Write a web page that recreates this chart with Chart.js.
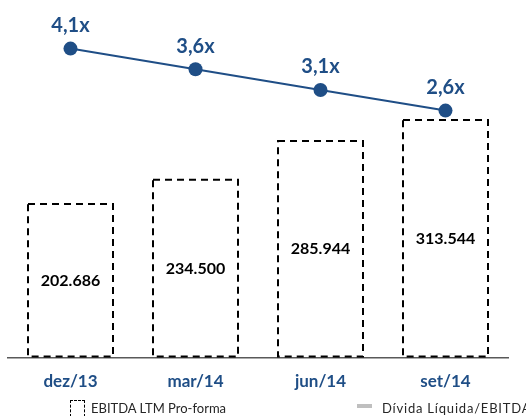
<!DOCTYPE html>
<html><head><meta charset="utf-8">
<script src="https://cdn.jsdelivr.net/npm/chart.js@4/dist/chart.umd.min.js"></script>
<style>
html,body{margin:0;padding:0;background:#fff;overflow:hidden;width:526px;height:416px;}
#wrap{position:relative;width:526px;height:416px;overflow:hidden;}
canvas{position:absolute;left:0;top:0;}
.lg{position:absolute;font-family:Lato,"Open Sans",sans-serif;font-size:13px;color:#262626;white-space:nowrap;}
</style></head>
<body><div id="wrap"><canvas id="c" width="526" height="416"></canvas>
<div class="lg" style="left:70px;top:400px;"><span style="display:inline-block;width:15px;height:17px;border:1.5px dashed #000;border-bottom:none;vertical-align:top;margin-right:6px;box-sizing:border-box;"></span><span id="lg1"></span></div>
<div class="lg" style="left:357px;top:400px;letter-spacing:0.8px;"><span style="display:inline-block;width:15px;height:4px;background:#BFBFBF;vertical-align:middle;margin-right:10px;position:relative;top:-4px;"></span><span id="lg2"></span></div>
</div>
<script>
const categories = ["dez/13", "mar/14", "jun/14", "set/14"];
const ebitdaValues = [202686, 234500, 285944, 313544];
const leverageValues = [4.1, 3.6, 3.1, 2.6];
const seriesNames = ["EBITDA LTM Pro-forma", "Dívida Líquida/EBITDA"];

document.getElementById('lg1').textContent = seriesNames[0];
document.getElementById('lg2').textContent = seriesNames[1];

const BLUE = '#1F4E86';
const FONT = 'Lato, "Open Sans", sans-serif';
const fmtNum = v => v.toLocaleString('de-DE');
const fmtX = v => v.toFixed(1).replace('.', ',') + 'x';

const labelPlugin = {
  id: 'customDraw',
  afterDatasetsDraw(chart) {
    const ctx = chart.ctx;
    const barMeta = chart.getDatasetMeta(1);
    ctx.save();
    barMeta.data.forEach((el, i) => {
      const p = el.getProps(['x', 'y', 'base', 'width'], true);
      ctx.strokeStyle = '#000';
      ctx.lineWidth = 2;
      ctx.setLineDash([7, 5]);
      ctx.strokeRect(p.x - p.width / 2, p.y, p.width, p.base - p.y - 1);
      ctx.setLineDash([]);
      ctx.fillStyle = '#000';
      ctx.font = 'bold 16px ' + FONT;
      ctx.textAlign = 'center';
      ctx.textBaseline = 'middle';
      ctx.fillText(fmtNum(ebitdaValues[i]), p.x, (p.y + p.base) / 2);
    });
    ctx.restore();
  },
  afterDraw(chart) {
    const ctx = chart.ctx;
    const lineMeta = chart.getDatasetMeta(0);
    ctx.save();
    ctx.fillStyle = BLUE;
    ctx.font = 'bold 20px ' + FONT;
    ctx.textAlign = 'center';
    ctx.textBaseline = 'middle';
    lineMeta.data.forEach((el, i) => {
      ctx.fillText(fmtX(leverageValues[i]), el.x, el.y - 23);
    });
    ctx.restore();
  }
};

new Chart(document.getElementById('c'), {
  data: {
    labels: categories,
    datasets: [
      {
        type: 'line', label: seriesNames[1], data: leverageValues, yAxisID: 'y1',
        borderColor: BLUE, backgroundColor: BLUE, borderWidth: 2,
        pointRadius: 7, pointHoverRadius: 7, pointBackgroundColor: BLUE, pointBorderWidth: 0,
        tension: 0, order: 0
      },
      {
        type: 'bar', label: seriesNames[0], data: ebitdaValues, yAxisID: 'y',
        backgroundColor: 'rgba(0,0,0,0)', borderWidth: 0,
        categoryPercentage: 0.68, barPercentage: 1, order: 1
      }
    ]
  },
  options: {
    responsive: false, animation: false,
    layout: { padding: { left: 8, right: 18, top: 12, bottom: 10 } },
    plugins: { legend: { display: false }, tooltip: { enabled: false } },
    scales: {
      x: {
        grid: { display: false, drawTicks: false },
        border: { display: true, color: '#595959', width: 1.5 },
        ticks: { color: BLUE, font: { family: FONT, size: 17, weight: 'bold' }, padding: 14 }
      },
      y: { display: false, min: 0, max: 456000 },
      y1: { display: false, min: -3.375, max: 4.985 }
    }
  },
  plugins: [labelPlugin]
});
</script></body></html>
